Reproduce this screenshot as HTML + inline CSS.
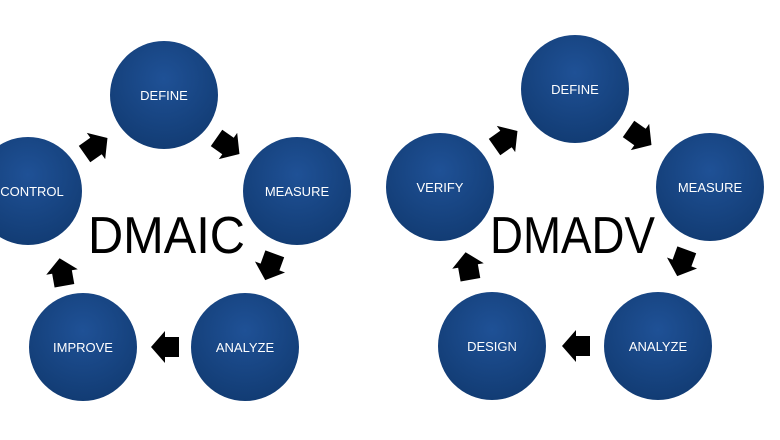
<!DOCTYPE html>
<html><head><style>
html,body{margin:0;padding:0;background:#fff;}
svg{display:block}
text{font-family:"Liberation Sans",sans-serif;}
</style></head><body>
<svg width="780" height="440" viewBox="0 0 780 440">
<defs>
<radialGradient id="g" cx="50%" cy="35%" r="65%">
<stop offset="0" stop-color="#1f5196"/>
<stop offset="1" stop-color="#123c74"/>
</radialGradient>
<polygon id="a" points="-14,-10 0,-10 0,-16 14,0 0,16 0,10 -14,10" fill="#000"/>
</defs>
<g fill="url(#g)">
<circle cx="164" cy="95" r="54"/>
<circle cx="297" cy="191" r="54"/>
<circle cx="245" cy="347" r="54"/>
<circle cx="83" cy="347" r="54"/>
<circle cx="28" cy="191" r="54"/>
<circle cx="575" cy="89" r="54"/>
<circle cx="710" cy="187" r="54"/>
<circle cx="658" cy="346" r="54"/>
<circle cx="492" cy="346" r="54"/>
<circle cx="440" cy="187" r="54"/>
</g>
<g fill="#fff" font-size="13" text-anchor="middle">
<text x="164" y="100">DEFINE</text>
<text x="297" y="196">MEASURE</text>
<text x="245" y="352">ANALYZE</text>
<text x="83" y="352">IMPROVE</text>
<text x="32" y="196">CONTROL</text>
<text x="575" y="94">DEFINE</text>
<text x="710" y="192">MEASURE</text>
<text x="658" y="351">ANALYZE</text>
<text x="492" y="351">DESIGN</text>
<text x="440" y="192">VERIFY</text>
</g>
<g font-size="52" fill="#000">
<text x="88" y="253" textLength="157" lengthAdjust="spacingAndGlyphs">DMAIC</text>
<text x="490" y="253" textLength="165" lengthAdjust="spacingAndGlyphs">DMADV</text>
</g>
<use href="#a" transform="translate(96,146) rotate(-35)"/>
<use href="#a" transform="translate(228,146) rotate(35)"/>
<use href="#a" transform="translate(270,267) rotate(110)"/>
<use href="#a" transform="translate(165,347) rotate(180)"/>
<use href="#a" transform="translate(62,272) rotate(-100)"/>
<use href="#a" transform="translate(506,139) rotate(-35)"/>
<use href="#a" transform="translate(640,137) rotate(35)"/>
<use href="#a" transform="translate(682,263) rotate(110)"/>
<use href="#a" transform="translate(576,346) rotate(180)"/>
<use href="#a" transform="translate(468,266) rotate(-100)"/>
</svg>
</body></html>
